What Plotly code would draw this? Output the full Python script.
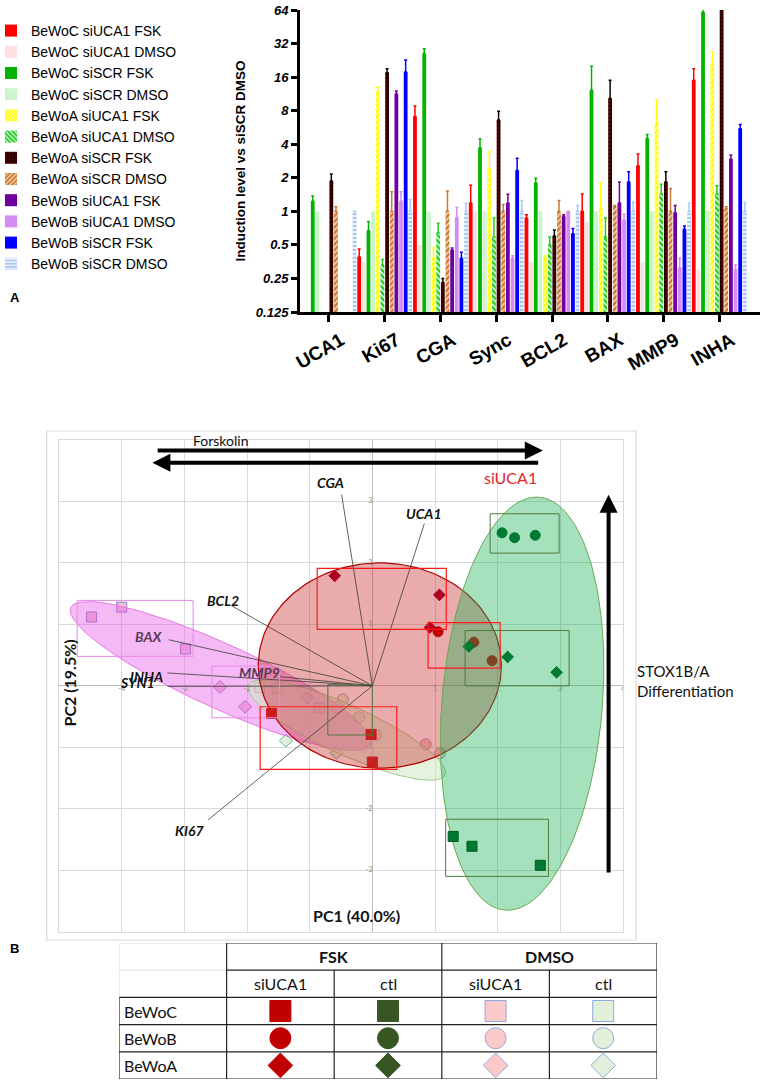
import numpy as np
import plotly.graph_objects as go

W, H = 763, 1081
SANS = "Arial, Liberation Sans, sans-serif"
CAL = "Lato, Open Sans, sans-serif"

# ---------------- panel A : induction level, log2 scale ----------------
genes = ["UCA1", "Ki67", "CGA", "Sync", "BCL2", "BAX", "MMP9", "INHA"]

# bar height and top of its error bar, one pair of lists per condition
bewoc_siuca1_fsk = [None, 0.39, 7.1, 1.19, 0.87, 1.0, 2.56, 15]
bewoc_siuca1_fsk_top = [None, 0.46, 8.8, 1.71, 0.93, 1.43, 3.27, 19]
bewoc_siuca1_dmso = [None, 0.35, 0.5, 1.0, 0.35, 0.8, 0.35, 0.3]
bewoc_siuca1_dmso_top = [None, None, None, None, None, None, None, None]
bewoc_siscr_fsk = [1.23, 0.67, 26, 3.7, 1.8, 12.2, 4.5, 61]
bewoc_siscr_fsk_top = [1.37, 0.81, 28.7, 4.47, 1.98, 20, 4.9, 70]
bewoc_siscr_dmso = [1, 1, 1, 1, 1, 1, 1, 1]
bewoc_siscr_dmso_top = [None, None, None, None, None, None, None, None]
bewoa_siuca1_fsk = [None, 11.7, 0.38, 2.39, 0.38, 1.05, 6.2, 21]
bewoa_siuca1_fsk_top = [None, 13, 0.47, 3.4, 0.4, 1.8, 9.9, 27]
bewoa_siuca1_dmso = [None, 0.33, 0.64, 0.59, 0.5, 0.59, 1.43, 1.43]
bewoa_siuca1_dmso_top = [None, 0.37, 0.78, 0.87, 0.59, 0.87, 1.75, 1.7]
bewoa_siscr_fsk = [1.87, 17.5, 0.23, 6.6, 0.6, 10.3, 1.83, 75]
bewoa_siscr_fsk_top = [2.16, 19, 0.25, 7.9, 0.68, 15, 2.27, None]
bewoa_siscr_dmso = [1, 1, 1, 1, 1, 1.1, 1, 1.05]
bewoa_siscr_dmso_top = [1.1, 1.5, 1.52, 1.15, 1.25, 1.13, 1.6, 1.1]
bewob_siuca1_fsk = [None, 11.3, 0.45, 1.19, 0.9, 1.19, 0.97, 2.94]
bewob_siuca1_fsk_top = [None, 12, 0.47, 1.42, 0.93, 1.83, 1.13, 3.2]
bewob_siuca1_dmso = [None, 1.23, 0.88, 0.38, 1.0, 0.83, 0.31, 0.3]
bewob_siuca1_dmso_top = [None, 1.5, 1.09, 0.4, None, 0.94, 0.38, 0.33]
bewob_siscr_fsk = [None, 17.8, 0.38, 2.33, 0.63, 1.83, 0.69, 5.5]
bewob_siscr_fsk_top = [None, 22.8, 0.43, 3.0, 0.7, 2.27, 0.74, 6.0]
bewob_siscr_dmso = [1, 1, 1, 1, 1, 1, 1, 1]
bewob_siscr_dmso_top = [None, 1.28, 1.19, 1.25, 1.13, 1.2, 1.18, 1.2]

y_ticks = [0.125, 0.25, 0.5, 1, 2, 4, 8, 16, 32, 64]
y_ticktext = ["0.125", "0.25", "0.5", "1", "2", "4", "8", "16", "32", "64"]

bar_series = [
    ("BeWoC siUCA1 FSK", bewoc_siuca1_fsk, bewoc_siuca1_fsk_top, "#ff0000", None),
    ("BeWoC siUCA1 DMSO", bewoc_siuca1_dmso, bewoc_siuca1_dmso_top, "#fde0e0", None),
    ("BeWoC siSCR FSK", bewoc_siscr_fsk, bewoc_siscr_fsk_top, "#00b400", None),
    ("BeWoC siSCR DMSO", bewoc_siscr_dmso, bewoc_siscr_dmso_top, "#cdf5cd", None),
    ("BeWoA siUCA1 FSK", bewoa_siuca1_fsk, bewoa_siuca1_fsk_top, "#ffff00", ("/", "#ffffb8")),
    ("BeWoA siUCA1 DMSO", bewoa_siuca1_dmso, bewoa_siuca1_dmso_top, "#22cc22", ("\\", "#ffffff")),
    ("BeWoA siSCR FSK", bewoa_siscr_fsk, bewoa_siscr_fsk_top, "#120000", ("+", "#7a0000")),
    ("BeWoA siSCR DMSO", bewoa_siscr_dmso, bewoa_siscr_dmso_top, "#c97a3a", ("/", "#ffe2b8")),
    ("BeWoB siUCA1 FSK", bewob_siuca1_fsk, bewob_siuca1_fsk_top, "#7000a0", None),
    ("BeWoB siUCA1 DMSO", bewob_siuca1_dmso, bewob_siuca1_dmso_top, "#d58cf0", None),
    ("BeWoB siSCR FSK", bewob_siscr_fsk, bewob_siscr_fsk_top, "#0000ff", None),
    ("BeWoB siSCR DMSO", bewob_siscr_dmso, bewob_siscr_dmso_top, "#a9c9f2", ("-", "#ffffff")),
]

# ---------------- panel B : PCA ----------------
# scores, per treatment and cell line (square BeWoC, circle BeWoB, diamond BeWoA)
fsk_siuca1_c_x, fsk_siuca1_c_y = [-1.61, -0.02, 0.0], [-0.45, -0.79, -1.24]
fsk_siuca1_b_x, fsk_siuca1_b_y = [1.05, 1.62, 1.91], [0.88, 0.71, 0.41]
fsk_siuca1_a_x, fsk_siuca1_a_y = [-0.6, 1.07, 0.92], [1.79, 1.48, 0.95]
fsk_ctl_c_x, fsk_ctl_c_y = [1.29, 1.59, 2.68], [-2.45, -2.61, -2.92]
fsk_ctl_b_x, fsk_ctl_b_y = [2.07, 2.27, 2.6], [2.49, 2.41, 2.45]
fsk_ctl_a_x, fsk_ctl_a_y = [1.54, 2.16, 2.94], [0.64, 0.47, 0.22]
dmso_siuca1_c_x, dmso_siuca1_c_y = [-4.48, -4.0, -2.98], [1.12, 1.28, 0.6]
dmso_siuca1_b_x, dmso_siuca1_b_y = [0.06, 0.85, 1.08], [-0.8, -0.95, -1.1]
dmso_siuca1_a_x, dmso_siuca1_a_y = [-2.43, -2.03, -1.04], [-0.02, -0.34, -0.19]
dmso_ctl_c_x, dmso_ctl_c_y = [-1.8, -1.52, -0.85], [-0.03, -0.04, -0.36]
dmso_ctl_b_x, dmso_ctl_b_y = [-0.47, -0.57, -0.21], [-0.22, -0.35, -0.51]
dmso_ctl_a_x, dmso_ctl_a_y = [-1.38, -0.57], [-0.89, -1.09]

# loadings: end of each vector and where its name sits
loading_names = ["CGA", "UCA1", "BCL2", "BAX", "INHA", "SYN1", "MMP9", "KI67"]
loading_end_x = [-0.49, 0.83, -2.24, -3.25, -3.27, -3.27, -1.48, -2.62]
loading_end_y = [3.11, 2.64, 1.30, 0.75, 0.21, -0.01, 0.15, -2.18]
label_x = [-0.67, 0.83, -2.39, -3.56, -3.61, -3.74, -1.80, -2.91]
label_y = [3.31, 2.81, 1.39, 0.80, 0.15, 0.05, 0.22, -2.35]

pca_xticks = [-4, -3, -2, -1, 1, 2, 3, 4]
pca_yticks = [3, 2, 1, -1, -2, -3]

# group ellipses: centre x, centre y, semi axis 1, semi axis 2, angle
ell_pink = (-2.42, 0.16, 2.64, 0.52, -25)
ell_lightgreen = (-0.41, -0.72, 1.73, 0.40, -25)
ell_red = (0.12, 0.33, 1.94, 1.67, 0)
ell_green = (2.39, -0.29, 1.28, 3.37, -4.6)

# replicate boxes: x0, x1, y0, y1
box_pink = [(-4.71, -2.86, 0.48, 1.39), (-2.56, -1.48, -0.52, 0.32)]
box_red = [(-0.88, 1.18, 0.92, 1.91), (0.89, 2.04, 0.29, 1.03), (-1.79, 0.39, -1.36, -0.34)]
box_green = [(1.88, 2.98, 2.16, 2.80), (1.48, 3.14, 0.0, 0.90), (1.17, 2.81, -3.10, -2.17), (-0.71, 0.0, -0.80, 0.02)]

# ---------------- symbol key table ----------------
table_groups = ["FSK", "DMSO"]
table_conditions = ["siUCA1", "ctl", "siUCA1", "ctl"]
table_lines = ["BeWoC", "BeWoB", "BeWoA"]
table_symbols = ["square", "circle", "diamond"]
cond_fill = ["#c00000", "#375623", "#fbc9c9", "#e2f0d9"]
cond_line = ["#c00000", "#375623", "#8faadc", "#8faadc"]


def ellipse(cx, cy, a, b, ang, n=160):
    t = np.linspace(0, 2 * np.pi, n)
    r = np.deg2rad(ang)
    x = cx + a * np.cos(t) * np.cos(r) - b * np.sin(t) * np.sin(r)
    y = cy + a * np.cos(t) * np.sin(r) + b * np.sin(t) * np.cos(r)
    return x, y


fig = go.Figure()

for name, vals, tops, color, pattern in bar_series:
    plus = [(t - v) if (t is not None and v is not None) else 0 for v, t in zip(vals, tops)]
    has_err = any(t is not None for t in tops)
    marker = dict(color=color, line=dict(width=0))
    if pattern:
        marker["pattern"] = dict(shape=pattern[0], fgcolor=pattern[1], bgcolor=color,
                                 size=4, solidity=0.35, fillmode="replace")
    fig.add_trace(go.Bar(
        x=genes, y=vals, name=name, marker=marker, cliponaxis=False,
        error_y=dict(type="data", symmetric=False, array=plus,
                     arrayminus=[0] * len(vals), color=color,
                     thickness=1.5, width=1.5, visible=has_err),
        xaxis="x", yaxis="y",
    ))


# PCA: DMSO points sit under the ellipses
def add_points(xs, ys, symbol, fill, line, size, lw=1):
    fig.add_trace(go.Scatter(
        x=xs, y=ys, mode="markers", xaxis="x2", yaxis="y2", showlegend=False,
        hoverinfo="skip",
        marker=dict(symbol=symbol, size=size, color=fill, line=dict(color=line, width=lw)),
    ))


add_points(dmso_siuca1_c_x, dmso_siuca1_c_y, "square", "#f2bfd6", "#8a7fc0", 10)
add_points(dmso_siuca1_b_x, dmso_siuca1_b_y, "circle", "#f5c6c6", "#9a9ab8", 11)
add_points(dmso_siuca1_a_x, dmso_siuca1_a_y, "diamond", "#f2bfd6", "#8a7fc0", 10)
add_points(dmso_ctl_c_x, dmso_ctl_c_y, "square", "#e2f0d9", "#9a9a9a", 10)
add_points(dmso_ctl_b_x, dmso_ctl_b_y, "circle", "#e2f0d9", "#b09aa8", 11)
add_points(dmso_ctl_a_x, dmso_ctl_a_y, "diamond", "#e2f0d9", "#5fb8a0", 10)


def add_ellipse(params, fill, line, lw=1):
    ex, ey = ellipse(*params)
    fig.add_trace(go.Scatter(
        x=ex, y=ey, mode="lines", fill="toself", fillcolor=fill,
        line=dict(color=line, width=lw), xaxis="x2", yaxis="y2",
        showlegend=False, hoverinfo="skip",
    ))


add_ellipse(ell_pink, "rgba(232,90,232,0.42)", "rgba(225,110,225,0.9)")
add_ellipse(ell_lightgreen, "rgba(205,232,195,0.55)", "rgba(150,200,130,0.9)")
add_ellipse(ell_red, "rgba(200,45,45,0.40)", "#b00000", 1.2)

# loading vectors
lx, ly = [], []
for ex, ey in zip(loading_end_x, loading_end_y):
    lx += [0, ex, None]
    ly += [0, ey, None]
fig.add_trace(go.Scatter(x=lx, y=ly, mode="lines", line=dict(color="#3a3a3a", width=0.8),
                         xaxis="x2", yaxis="y2", showlegend=False, hoverinfo="skip"))

add_points(fsk_siuca1_c_x, fsk_siuca1_c_y, "square", "#c81e1e", "#c81e1e", 10)
add_points(fsk_siuca1_b_x, fsk_siuca1_b_y, "circle", "#c00000", "#c00000", 10)
add_points(fsk_siuca1_a_x, fsk_siuca1_a_y, "diamond", "#b00020", "#b00020", 9)

add_ellipse(ell_green, "rgba(20,175,85,0.38)", "#6aa84f", 1)

add_points(fsk_ctl_c_x, fsk_ctl_c_y, "square", "#007a33", "#005a20", 10)
add_points(fsk_ctl_b_x, fsk_ctl_b_y, "circle", "#007a33", "#007a33", 10)
add_points(fsk_ctl_a_x, fsk_ctl_a_y, "diamond", "#007a33", "#007a33", 9)

# small grey tick labels along the PCA axes
fig.add_trace(go.Scatter(x=pca_xticks, y=[0] * len(pca_xticks), mode="text",
                         text=[str(v) for v in pca_xticks], textposition="bottom center",
                         textfont=dict(size=7, color="#8c8c8c", family=CAL),
                         xaxis="x2", yaxis="y2", showlegend=False, hoverinfo="skip"))
fig.add_trace(go.Scatter(x=[0] * len(pca_yticks), y=pca_yticks, mode="text",
                         text=[str(v) for v in pca_yticks], textposition="middle left",
                         textfont=dict(size=7, color="#8c8c8c", family=CAL),
                         xaxis="x2", yaxis="y2", showlegend=False, hoverinfo="skip"))

# ---------------- table ----------------
for r, (line_name, sym) in enumerate(zip(table_lines, table_symbols)):
    fig.add_trace(go.Scatter(
        x=[c + 1.5 for c in range(4)], y=[r + 2.5] * 4, mode="markers",
        xaxis="x3", yaxis="y3", showlegend=False, hoverinfo="skip",
        marker=dict(symbol=sym, size=21 if sym != "diamond" else 19,
                    color=cond_fill, line=dict(color=cond_line, width=1)),
    ))

shapes = []
for x0, x1, y0, y1 in box_pink:
    shapes.append(dict(type="rect", xref="x2", yref="y2", x0=x0, x1=x1, y0=y0, y1=y1,
                       line=dict(color="#e58ae5", width=1), layer="above"))
for x0, x1, y0, y1 in box_red:
    shapes.append(dict(type="rect", xref="x2", yref="y2", x0=x0, x1=x1, y0=y0, y1=y1,
                       line=dict(color="#ff1a1a", width=1.2), layer="above"))
for x0, x1, y0, y1 in box_green:
    shapes.append(dict(type="rect", xref="x2", yref="y2", x0=x0, x1=x1, y0=y0, y1=y1,
                       line=dict(color="#4f7a3a", width=1), layer="above"))

# outer chart frame of the PCA
shapes.append(dict(type="rect", xref="paper", yref="paper",
                   x0=46.7 / W, x1=636 / W, y0=1 - 940 / H, y1=1 - 431 / H,
                   line=dict(color="#d9d9d9", width=1.2), layer="below"))

# table grid
n_rows, n_cols = 5, 5
black = dict(color="#222222", width=1.2)
grey = dict(color="#d9d9d9", width=1)
for r in range(n_rows + 1):
    x_start = 0 if r >= 2 else 1
    shapes.append(dict(type="line", xref="x3", yref="y3", x0=x_start, x1=n_cols, y0=r, y1=r, line=black))
    if r < 2:
        shapes.append(dict(type="line", xref="x3", yref="y3", x0=0, x1=1, y0=r, y1=r, line=grey))
for c in range(n_cols + 1):
    if c in (1, 3, 5):
        y_start = 0
    elif c in (2, 4):
        y_start = 1
    else:
        y_start = 2
        shapes.append(dict(type="line", xref="x3", yref="y3", x0=c, x1=c, y0=0, y1=2, line=grey))
    shapes.append(dict(type="line", xref="x3", yref="y3", x0=c, x1=c, y0=y_start, y1=n_rows, line=black))

annotations = []
for i, g in enumerate(table_groups):
    annotations.append(dict(x=1 + 2 * i + 1, y=0.5, xref="x3", yref="y3", text="<b>%s</b>" % g,
                            showarrow=False, font=dict(family=CAL, size=16, color="#111")))
for i, cnd in enumerate(table_conditions):
    annotations.append(dict(x=i + 1.5, y=1.5, xref="x3", yref="y3", text=cnd,
                            showarrow=False, font=dict(family=CAL, size=16, color="#111")))
for r, ln in enumerate(table_lines):
    annotations.append(dict(x=0.03, y=r + 2.5, xref="x3", yref="y3", text=ln, xanchor="left",
                            showarrow=False, font=dict(family=CAL, size=16, color="#111")))

# loading names
for nm, tx, ty in zip(loading_names, label_x, label_y):
    col = "#5a3a5a" if nm in ("BAX", "MMP9") else "#111111"
    annotations.append(dict(x=tx, y=ty, xref="x2", yref="y2", text="<b><i>%s</i></b>" % nm,
                            showarrow=False, font=dict(family=CAL, size=14, color=col)))

# forskolin and differentiation arrows
annotations += [
    dict(x=2.72, y=3.83, ax=-3.45, ay=3.83, xref="x2", yref="y2", axref="x2", ayref="y2",
         text="", showarrow=True, arrowhead=2, arrowsize=0.9, arrowwidth=4, arrowcolor="black"),
    dict(x=-3.51, y=3.63, ax=2.67, ay=3.63, xref="x2", yref="y2", axref="x2", ayref="y2",
         text="", showarrow=True, arrowhead=2, arrowsize=0.9, arrowwidth=4, arrowcolor="black"),
    dict(x=3.77, y=3.11, ax=3.77, ay=-3.06, xref="x2", yref="y2", axref="x2", ayref="y2",
         text="", showarrow=True, arrowhead=2, arrowsize=0.9, arrowwidth=4, arrowcolor="black"),
    dict(x=191 / W, y=1 - 440 / H, xref="paper", yref="paper", text="Forskolin", showarrow=False,
         font=dict(family=CAL, size=14, color="#111")),
    dict(x=2.21, y=3.39, xref="x2", yref="y2", text="siUCA1", showarrow=False,
         font=dict(family=CAL, size=16, color="#e8232b")),
    dict(x=635 / W, y=1 - 681 / H, xref="paper", yref="paper", xanchor="left", align="left",
         text="STOX1B/A<br>Differentiation", showarrow=False,
         font=dict(family=CAL, size=15, color="#111")),
    dict(x=57 / W, y=1 - 683 / H, xref="paper", yref="paper", text="<b>PC2 (19.5%)</b>",
         textangle=-90, showarrow=False, font=dict(family=CAL, size=16, color="#111")),
    dict(x=356 / W, y=1 - 927 / H, xref="paper", yref="paper", text="<b>PC1 (40.0%)</b>",
         showarrow=False, font=dict(family=CAL, size=16, color="#111")),
    dict(x=8 / W, y=1 - 288 / H, xref="paper", yref="paper", text="<b>A</b>", showarrow=False,
         font=dict(family=SANS, size=13, color="black")),
    dict(x=8 / W, y=1 - 958 / H, xref="paper", yref="paper", text="<b>B</b>", showarrow=False,
         font=dict(family=SANS, size=13, color="black")),
]

fig.update_layout(
    width=W, height=H, autosize=False,
    margin=dict(l=0, r=0, t=0, b=0, autoexpand=False),
    paper_bgcolor="white", plot_bgcolor="white",
    barmode="group", bargap=0.0, bargroupgap=0.18,
    font=dict(family=SANS, color="black"),
    legend=dict(x=-9 / W, y=1 - 15 / H, xanchor="left", yanchor="top",
                font=dict(family=SANS, size=14, color="black"),
                bgcolor="rgba(0,0,0,0)", itemwidth=30, tracegroupgap=0),
    xaxis=dict(domain=[300 / W, 760 / W], anchor="y", type="category",
               categoryorder="array", categoryarray=genes, range=[-0.52, 7.73],
               showline=True, linewidth=3, linecolor="black", ticks="outside",
               ticklen=7, tickwidth=3, tickcolor="black", tickangle=-30,
               ticklabelshift=12,
               tickfont=dict(family=SANS, size=19, weight="bold", color="black"),
               showgrid=False, zeroline=False),
    yaxis=dict(domain=[1 - 312 / H, 1 - 10 / H], anchor="x", type="log",
               range=[np.log10(0.125), np.log10(64)],
               tickvals=y_ticks, ticktext=y_ticktext,
               showline=True, linewidth=3, linecolor="black", ticks="outside",
               ticklen=6, tickwidth=3, tickcolor="black",
               tickfont=dict(family=SANS, size=13, weight="bold", style="italic", color="black"),
               title=dict(text="Induction level vs siSCR DMSO", standoff=8,
                          font=dict(family=SANS, size=13.5, weight="bold", color="black")),
               showgrid=False, zeroline=False),
    xaxis2=dict(domain=[59 / W, 623 / W], anchor="y2", range=[-5, 4], dtick=1, tick0=0,
                showgrid=True, gridcolor="#d9d9d9", gridwidth=1,
                zeroline=True, zerolinecolor="#bdbdbd", zerolinewidth=1,
                showticklabels=False, showline=True, mirror=True, linecolor="#d9d9d9"),
    yaxis2=dict(domain=[1 - 931.7 / H, 1 - 440 / H], anchor="x2", range=[-4, 4], dtick=1, tick0=0,
                showgrid=True, gridcolor="#d9d9d9", gridwidth=1,
                zeroline=True, zerolinecolor="#bdbdbd", zerolinewidth=1,
                showticklabels=False, showline=True, mirror=True, linecolor="#d9d9d9"),
    xaxis3=dict(domain=[119 / W, 657 / W], anchor="y3", range=[0, 5], visible=False),
    yaxis3=dict(domain=[1 - 1079 / H, 1 - 943 / H], anchor="x3", range=[5, 0], visible=False),
    shapes=shapes,
    annotations=annotations,
)

# the page body keeps its default 8px margin unless it is cleared
fig.write_html("out.html", config={"displayModeBar": False},
               post_script="document.body.style.margin='0';")
